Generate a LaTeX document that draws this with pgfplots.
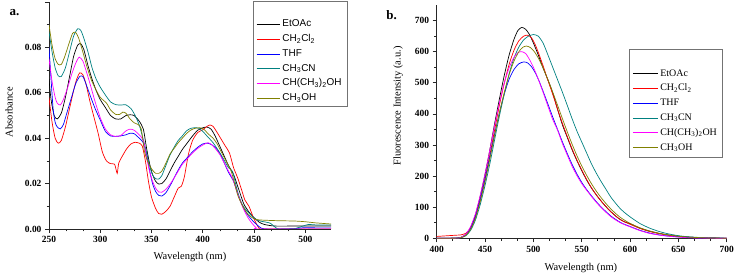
\documentclass[border=0pt]{standalone}
\usepackage{fontspec}
\setmainfont{Liberation Serif}
\setsansfont{Liberation Sans}
\usepackage{pgfplots}
\pgfplotsset{compat=1.18}

\definecolor{oBlack}{RGB}{0,0,0}
\definecolor{oRed}{RGB}{255,0,0}
\definecolor{oBlue}{RGB}{0,0,255}
\definecolor{oCyan}{RGB}{0,128,128}
\definecolor{oMagenta}{RGB}{255,0,255}
\definecolor{oOlive}{RGB}{128,128,0}

\pgfplotsset{
  panel/.style={
    scale only axis,
    axis x line*=bottom, axis y line*=left,
    axis line style={black!85, line width=0.9pt},
    tick align=outside,
    major tick length=4bp, minor tick length=2.3bp,
    every tick/.style={black!85, line width=0.7pt},
    tick label style={font=\bfseries\fontsize{9.5}{11}\selectfont},
    /pgf/number format/assume math mode=true,
    label style={font=\fontsize{10.5}{12}\selectfont},
    legend cell align=left,
    every axis plot/.append style={line width=0.7pt, smooth, tension=0.4},
  },
}

\begin{document}
\begin{tikzpicture}

% ---------------- a. UV-vis absorption ----------------
\begin{axis}[panel,
  at={(49bp,49bp)}, anchor=south west,
  width=282bp, height=227bp,
  xmin=250, xmax=525, ymin=0, ymax=0.1,
  xtick={250,300,350,400,450,500}, minor x tick num=2,
  ytick={0,0.02,0.04,0.06,0.08,0.1}, minor y tick num=1,
  yticklabels={0.00,0.02,0.04,0.06,0.08,},
  xlabel={Wavelength (nm)}, ylabel={Absorbance},
  xlabel style={at={(axis description cs:0.5,-0.125)}, anchor=center},
  ylabel style={at={(axis description cs:-0.142,0.515)}, anchor=center},
  legend image code/.code={\draw[#1] (0bp,0bp) -- (23bp,0bp);},
  legend style={at={(0.7234,0.5374)}, anchor=south west,
    draw=black!55, line width=0.6pt, fill=white,
    font=\sffamily\fontsize{10}{12}\selectfont,
    inner xsep=3bp, inner ysep=1bp, row sep=0pt,
    nodes={text height=7.8bp, text depth=3bp, inner ysep=2bp, inner xsep=2.5bp}},
]
\addlegendimage{empty legend}\addlegendentry{}

\addplot[oBlack] table {
250 0.066
252 0.057
255 0.050
258 0.0485
262 0.051
266 0.058
270 0.067
274 0.076
278 0.0810
281 0.0816
284 0.079
288 0.072
292 0.066
296 0.061
300 0.057
305 0.0535
310 0.050
315 0.0485
320 0.0485
325 0.050
329 0.0503
333 0.050
338 0.0475
342 0.044
345 0.036
348 0.029
351 0.024
354 0.0210
357 0.0198
360 0.020
364 0.022
368 0.0255
372 0.029
376 0.032
380 0.035
385 0.038
390 0.041
395 0.0435
400 0.0446
404 0.0449
408 0.044
412 0.041
416 0.037
420 0.033
425 0.028
430 0.024
435 0.0175
440 0.011
445 0.0075
450 0.005
455 0.003
460 0.002
470 0.0013
490 0.0013
510 0.0013
525 0.0013
};
\addlegendentry{EtOAc}

\addplot[oRed] table {
250 0.058
253 0.047
256 0.040
259 0.0378
262 0.039
266 0.045
270 0.053
274 0.061
277 0.066
280 0.0688
283 0.068
286 0.064
290 0.056
294 0.049
298 0.042
302 0.034
306 0.030
310 0.0288
314 0.0285
316.5 0.0245
318 0.029
322 0.0325
326 0.0355
330 0.0375
334 0.0382
338 0.0378
341 0.0365
344 0.030
347 0.021
350 0.014
354 0.009
357 0.0068
360 0.0065
364 0.0078
368 0.010
372 0.014
376 0.018
379 0.0188
382 0.023
386 0.033
390 0.039
395 0.0425
400 0.0437
404 0.0452
407 0.0458
410 0.0452
414 0.0425
418 0.0395
422 0.0365
426 0.0335
430 0.027
434 0.0225
438 0.017
441 0.0128
445 0.010
449 0.0054
452 0.0025
455 0.0003
460 0
525 0
};
\addlegendentry{CH\textsubscript{2}Cl\textsubscript{2}}

\addplot[oBlue] table {
250 0.080
252 0.066
254 0.053
256 0.047
258 0.045
261 0.0441
264 0.046
268 0.052
272 0.058
276 0.064
280 0.0672
283 0.0672
286 0.064
290 0.059
295 0.053
300 0.048
305 0.043
310 0.041
315 0.0408
320 0.041
325 0.0415
329 0.0422
333 0.042
338 0.040
342 0.038
345 0.033
348 0.026
351 0.020
354 0.0165
357 0.0148
360 0.0145
364 0.016
368 0.019
372 0.0225
376 0.026
380 0.029
385 0.0315
390 0.034
395 0.036
400 0.0375
405 0.0378
409 0.037
413 0.0355
417 0.033
421 0.029
425 0.025
430 0.021
435 0.0145
440 0.009
445 0.0055
450 0.003
455 0.001
460 0.0
480 0.0
490 0.0002
500 0.0006
510 0.0005
525 0.0005
};
\addlegendentry{THF}

\addplot[oCyan] table {
250 0.087
253 0.078
256 0.071
259 0.0675
262 0.0672
266 0.071
270 0.078
274 0.085
278 0.0882
281 0.0875
284 0.084
288 0.078
292 0.071
296 0.066
300 0.0625
305 0.059
310 0.056
315 0.0548
320 0.0546
325 0.0547
330 0.053
334 0.050
338 0.0458
341 0.041
345 0.034
348 0.028
351 0.0238
354 0.0222
357 0.022
360 0.0235
364 0.028
368 0.0326
372 0.036
376 0.039
380 0.041
384 0.0432
388 0.0443
392 0.0446
396 0.0444
400 0.0430
404 0.041
410 0.038
416 0.034
420 0.031
425 0.027
429 0.0253
433 0.018
437 0.012
441 0.009
446 0.0065
451 0.0045
456 0.0035
462 0.003
466 0.0025
470 0.001
473 0.0
480 0.0
490 0.0002
497 0.0012
503 0.002
510 0.0018
525 0.0018
};
\addlegendentry{CH\textsubscript{3}CN}

\addplot[oMagenta] table {
250 0.075
253 0.065
256 0.058
258 0.0555
261 0.0546
264 0.057
268 0.062
272 0.068
276 0.073
279.5 0.0757
283 0.074
286 0.070
290 0.064
295 0.056
300 0.049
305 0.044
310 0.0415
315 0.0408
320 0.0412
325 0.0432
329 0.044
333 0.0435
338 0.0415
342 0.039
345 0.032
348 0.0255
351 0.021
354 0.018
357 0.0163
360 0.0162
364 0.0175
368 0.0197
372 0.0225
376 0.0255
380 0.0285
385 0.031
390 0.0335
395 0.0355
400 0.037
405 0.038
409 0.037
413 0.035
417 0.0325
421 0.029
425 0.0255
429 0.0223
434 0.0155
439 0.0095
444 0.005
448 0.0025
452 0.0005
454 0.0
525 0.0
};
\addlegendentry{CH(CH\textsubscript{3})\textsubscript{2}OH}

\addplot[oOlive] table {
250 0.090
253 0.081
256 0.075
259 0.0725
262 0.0725
265 0.0755
269 0.081
273 0.0862
276 0.0866
279 0.084
283 0.078
287 0.0715
291 0.066
295 0.062
300 0.058
306 0.0555
310 0.0525
315 0.0505
319 0.0505
322 0.0515
325 0.051
329 0.0485
333 0.0468
337 0.046
340 0.044
343 0.0345
346 0.030
350 0.0265
354 0.0245
357 0.0245
360 0.0255
364 0.029
368 0.033
372 0.0355
376 0.038
380 0.040
384 0.042
388 0.0435
392 0.0443
397 0.0446
401 0.044
405 0.042
410 0.040
414 0.0375
418 0.034
423 0.0297
428 0.025
434 0.015
439 0.010
444 0.0065
450 0.0045
455 0.004
470 0.0037
490 0.0035
500 0.0032
510 0.0027
525 0.0022
};
\addlegendentry{CH\textsubscript{3}OH}
\end{axis}

% ---------------- b. fluorescence emission ----------------
\begin{axis}[panel,
  at={(436.7bp,39.7bp)}, anchor=south west,
  width=290bp, height=233.3bp,
  xmin=400, xmax=700, ymin=0, ymax=750,
  xtick={400,450,...,700}, minor x tick num=2,
  ytick={0,100,...,700}, minor y tick num=1,
  xlabel={Wavelength (nm)}, ylabel={Fluorescence Intensity (a.u.)},
  xlabel style={at={(axis description cs:0.497,-0.127)}, anchor=center},
  ylabel style={at={(axis description cs:-0.1334,0.567)}, anchor=center},
  legend image code/.code={\draw[#1] (0bp,0bp) -- (25bp,0bp);},
  legend style={at={(0.664,0.3472)}, anchor=south west,
    draw=black!55, line width=0.6pt, fill=white,
    font=\rmfamily\fontsize{10}{12}\selectfont,
    inner xsep=3bp, inner ysep=2bp, row sep=0pt,
    nodes={text height=7.8bp, text depth=3bp, inner ysep=2bp, inner xsep=2bp}},
]
\addlegendimage{empty legend}\addlegendentry{}

\addplot[oBlack] table {
400 0
420 1
425 3
430 12
435 35
440 75
445 135
450 205
455 285
460 370
465 450
470 525
475 590
480 640
484 668
488 678
492 672
496 655
500 628
505 590
510 548
515 510
520 468
525 415
530 365
535 325
540 285
545 250
550 218
555 188
560 162
565 140
570 120
575 102
580 86
585 72
590 60
595 52
600 47
610 33
620 23
630 16
640 10.5
650 6.5
660 4
670 2.5
680 1.5
690 0.8
700 0.3
};
\addlegendentry{EtOAc}

\addplot[oRed] table {
400 6
410 8
420 10
425 11
430 16
435 32
440 68
445 122
450 190
455 268
460 350
465 430
470 500
475 560
480 605
485 635
490 650
494 653
498 645
502 622
506 590
510 555
515 508
520 463
525 415
530 370
535 328
540 288
545 252
550 220
555 190
560 163
565 140
570 120
575 102
580 86
585 72
590 60
595 52
600 45
610 32
620 22
630 15
640 10
650 6
660 3.5
670 2
680 1
700 0.3
};
\addlegendentry{CH\textsubscript{2}Cl\textsubscript{2}}

\addplot[oBlue] table {
400 0
420 0.5
425 2.5
430 11
435 32
440 70
445 125
450 190
455 262
460 336
465 405
470 465
475 512
480 543
485 561
490 567
494 564
498 552
502 532
506 505
510 473
515 432
520 390
525 350
530 310
535 273
540 238
545 207
550 180
555 157
560 137
565 118
570 101
575 86
580 72
585 61
590 51
595 44
600 38
610 26
620 17
630 11
640 7
650 4.5
660 2.5
670 1.3
700 0.3
};
\addlegendentry{THF}

\addplot[oCyan] table {
400 0
420 0.5
425 2
430 8
435 25
440 58
445 108
450 170
455 240
460 318
465 395
470 465
475 530
480 580
485 615
490 638
495 650
500 655
505 650
510 628
515 590
520 550
525 510
530 470
535 428
540 385
545 345
550 310
555 275
560 240
565 210
570 183
575 158
580 133
585 113
590 95
595 81
600 69
610 48
620 33
630 22
640 14
650 8.5
660 5
670 3
680 1.5
700 0.5
};
\addlegendentry{CH\textsubscript{3}CN}

\addplot[oMagenta] table {
400 0
420 0.5
425 3
430 13
435 37
440 78
445 138
450 208
455 285
460 365
465 437
470 500
475 549
480 582
484 597
488 600
492 594
496 575
500 550
505 512
510 470
515 425
520 382
525 348
530 305
535 268
540 232
545 202
550 176
555 155
560 135
565 116
570 99
575 84
580 70
585 59
590 50
595 43
600 37
610 25
620 16
630 10.5
640 6.5
650 4
660 2
670 1
700 0.2
};
\addlegendentry{CH(CH\textsubscript{3})\textsubscript{2}OH}

\addplot[oOlive] table {
400 0
420 0.5
425 2
430 9
435 28
440 64
445 118
450 182
455 255
460 332
465 405
470 470
475 527
480 570
485 600
489 614
493 618
497 613
501 600
505 580
510 548
515 510
520 470
525 428
530 385
535 343
540 303
545 266
550 233
555 203
560 176
565 152
570 131
575 112
580 95
585 80
590 67
595 57
600 48
610 34
620 24
630 16
640 10.5
650 6.5
660 4
670 2.3
680 1.2
700 0.3
};
\addlegendentry{CH\textsubscript{3}OH}
\end{axis}

% panel letters
\node[font=\bfseries\fontsize{13}{14}\selectfont] at (14.5bp,265bp) {a.};
\node[font=\bfseries\fontsize{13}{14}\selectfont] at (391.7bp,263bp) {b.};

\pgfresetboundingbox
\useasboundingbox (0,0) rectangle (738bp,278bp);
\end{tikzpicture}
\end{document}
